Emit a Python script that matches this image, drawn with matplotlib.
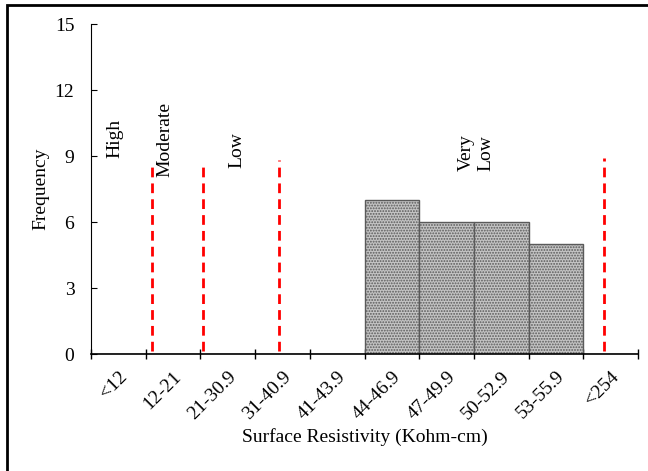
import matplotlib.pyplot as plt
from matplotlib.patches import Rectangle

plt.rcParams['font.family'] = ['Liberation Serif', 'DejaVu Serif']
plt.rcParams['hatch.linewidth'] = 0.9

# categories and counts
categories = ['<12', '12-21', '21-30.9', '31-40.9', '41-43.9', '44-46.9',
              '47-49.9', '50-52.9', '53-55.9', '<254']
frequency = [0, 0, 0, 0, 0, 7, 6, 6, 5, 0]

# dashed class boundaries (position on the category axis, top height)
boundary_x = [0.615, 1.55, 2.94, 8.88]
boundary_top = [8.75, 8.55, 8.8, 8.9]

# class names: (x, bottom y, text)
class_labels = [(-0.06, 8.9, 'High'), (0.85, 8.05, 'Moderate'),
                (2.17, 8.45, 'Low'), (6.54, 8.32, 'Very\nLow')]


def main():
    fig = plt.figure(figsize=(6.48, 4.71), dpi=100)
    ax = fig.add_axes([0.1404, 0.2484, 0.8442, 0.7006])

    pos = list(range(len(categories)))
    ax.bar(pos, frequency, width=1.0, color='#c4c4c4', edgecolor='#5a5a5a',
           hatch='......', linewidth=1.0, zorder=2)

    for x, top in zip(boundary_x, boundary_top):
        ax.plot([x, x], [0.15, top], color='#ff0000', linestyle=(0, (3.5, 2.2)),
                linewidth=2, zorder=3)

    for x, y, txt in class_labels:
        ax.text(x, y, txt, rotation=90, ha='center', va='bottom',
                multialignment='left', fontsize=14)

    ax.set_xlim(-0.5, 9.5)
    ax.set_ylim(0, 15)
    ax.set_yticks([0, 3, 6, 9, 12, 15])
    ax.set_xticks(pos)
    ax.set_xticklabels(categories, rotation=45, ha='right', rotation_mode='anchor')
    ax.set_xticks([p - 0.5 for p in pos] + [9.5], minor=True)

    ax.tick_params(axis='x', which='major', length=0, labelsize=14, pad=10)
    ax.tick_params(axis='x', which='minor', direction='inout', length=7, width=1)
    ax.tick_params(axis='y', direction='in', length=4.5, width=0.8,
                   labelsize=14, pad=12)

    ax.spines['top'].set_visible(False)
    ax.spines['right'].set_visible(False)
    ax.spines['bottom'].set_linewidth(1.2)
    ax.spines['left'].set_linewidth(0.8)

    ax.set_xlabel('Surface Resistivity (Kohm-cm)', fontsize=14, labelpad=4)
    ax.set_ylabel('Frequency', fontsize=14, labelpad=4)

    # outer frame around the whole figure, cut off at right and bottom
    fig.patches.append(Rectangle((0.011, -0.2), 1.2, 1.19, transform=fig.transFigure,
                                 fill=False, edgecolor='black', linewidth=2))

    fig.savefig('out.png', dpi=100)


if __name__ == '__main__':
    main()
